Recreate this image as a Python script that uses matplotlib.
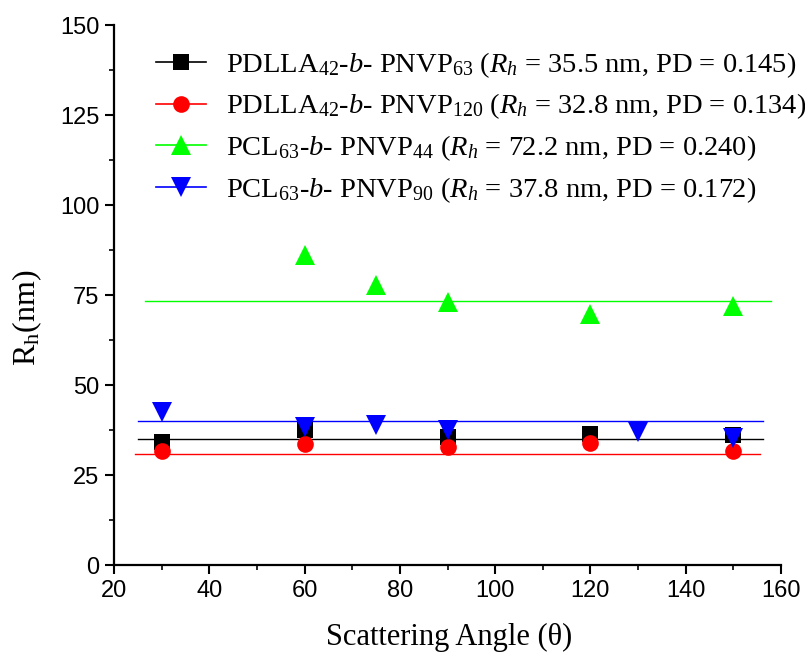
import matplotlib
matplotlib.use("Agg")
import matplotlib.pyplot as plt
from matplotlib.lines import Line2D
from matplotlib.ticker import MultipleLocator

# ── Data ─────────────────────────────────────────────────────────────────────
angle_a = [30, 60, 90, 120, 150]
rh_a    = [34.2, 37.4, 35.6, 36.4, 36.2]          # PDLLA42-b-PNVP63
angle_b = [30, 60, 90, 120, 150]
rh_b    = [31.7, 33.6, 32.8, 34.0, 31.7]          # PDLLA42-b-PNVP120
angle_c = [60, 75, 90, 120, 150]
rh_c    = [86.1, 77.8, 73.0, 69.7, 71.9]          # PCL63-b-PNVP44
angle_d = [30, 60, 75, 90, 130, 150]
rh_d    = [42.4, 38.3, 39.0, 37.5, 36.9, 35.3]    # PCL63-b-PNVP90

# horizontal fit levels and their x spans
fit_a = 35.0
fit_b = 30.9
fit_c = 73.2
fit_d = 40.1
span_a = [25.0, 156.3]
span_b = [24.4, 155.6]
span_c = [26.5, 157.8]
span_d = [25.0, 156.3]

labels = [
    r"PDLLA$_{42}$-$b$- PNVP$_{63}$ ($R_h$ = 35.5 nm, PD = 0.145)",
    r"PDLLA$_{42}$-$b$- PNVP$_{120}$ ($R_h$ = 32.8 nm, PD = 0.134)",
    r"PCL$_{63}$-$b$- PNVP$_{44}$ ($R_h$ = 72.2 nm, PD = 0.240)",
    r"PCL$_{63}$-$b$- PNVP$_{90}$ ($R_h$ = 37.8 nm, PD = 0.172)",
]

BLACK = "#000000"
RED   = "#FF0000"
GREEN = "#00FF00"
BLUE  = "#0000FF"

SERIF = "Liberation Serif"
SANS = "Liberation Sans"
plt.rcParams["mathtext.fontset"] = "custom"
plt.rcParams["mathtext.rm"] = SERIF
plt.rcParams["mathtext.it"] = SERIF + ":italic"
plt.rcParams["mathtext.bf"] = SERIF + ":bold"

fig = plt.figure(figsize=(8.05, 6.56), dpi=100)
ax = fig.add_axes([114 / 805, 91 / 656, 667 / 805, 540 / 656])

series = [
    (angle_a, rh_a, fit_a, span_a, BLACK, "s", 11),
    (angle_b, rh_b, fit_b, span_b, RED,   "o", 12),
    (angle_c, rh_c, fit_c, span_c, GREEN, "^", 14),
    (angle_d, rh_d, fit_d, span_d, BLUE,  "v", 14),
]

for xs, ys, lvl, span, col, mk, ms in series:
    ax.plot(span, [lvl, lvl], color=col, lw=1.0, zorder=2)
for xs, ys, lvl, span, col, mk, ms in series:
    ax.plot(xs, ys, ls="none", marker=mk, ms=ms, color=col,
            markeredgewidth=0, zorder=3)

ax.set_xlim(20, 160)
ax.set_ylim(0, 150)
ax.xaxis.set_major_locator(MultipleLocator(20))
ax.xaxis.set_minor_locator(MultipleLocator(10))
ax.yaxis.set_major_locator(MultipleLocator(25))
ax.yaxis.set_minor_locator(MultipleLocator(12.5))

for side in ("top", "right"):
    ax.spines[side].set_visible(False)
for side in ("left", "bottom"):
    ax.spines[side].set_linewidth(1.6)

ax.tick_params(which="major", direction="out", length=6.5, width=1.5,
               labelsize=17, pad=4)
ax.tick_params(which="minor", direction="out", length=3.5, width=1.2)
for lab in ax.get_xticklabels() + ax.get_yticklabels():
    lab.set_family(SANS)

ax.set_xlabel("Scattering Angle (θ)", family=SERIF, fontsize=22)
ax.xaxis.set_label_coords((449 - 114) / 667, -(637 - 565) / 540)
ax.xaxis.label.set_va("center")
ax.set_ylabel(r"R$_\mathrm{h}$(nm)", family=SERIF, fontsize=23)
ax.yaxis.set_label_coords(-(114 - 27) / 667, (565 - 318) / 540)
ax.yaxis.label.set_va("center")

handles = [
    Line2D([0], [0], color=col, lw=1.2, marker=mk, ms=ms, markeredgewidth=0)
    for _, _, _, _, col, mk, ms in series
]
ax.legend(handles, labels, loc="upper left", bbox_to_anchor=(156 / 805, 1 - 50 / 656),
          bbox_transform=fig.transFigure, frameon=False,
          prop={"family": SERIF, "size": 20.5}, handlelength=1.76,
          handletextpad=0.7, labelspacing=0.42, borderaxespad=0,
          borderpad=0)

fig.savefig("out.png", dpi=100, facecolor="white")
